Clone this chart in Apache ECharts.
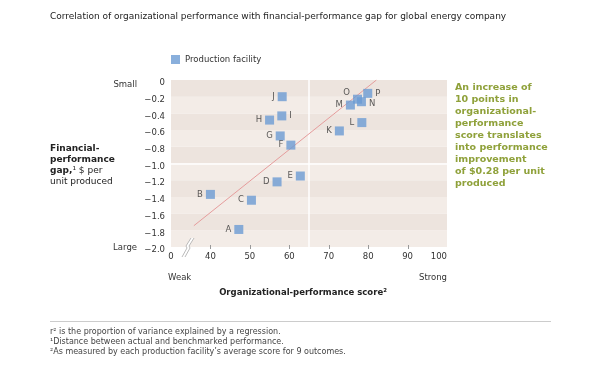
<!DOCTYPE html>
<html>
<head>
<meta charset="utf-8">
<script src="https://cdn.jsdelivr.net/npm/echarts@6/dist/echarts.min.js"></script>
<style>
html,body{margin:0;padding:0;background:#fff;}
#chart{width:602px;height:370px;}
</style>
</head>
<body>
<div id="chart"></div>
<script>
// ---- data ----
const facilities = ['A','B','C','D','E','F','G','H','I','J','K','L','M','N','O','P'];
const scores     = [47.2, 40.0, 50.4, 56.9, 62.8, 60.4, 57.7, 55.0, 58.1, 58.2, 72.7, 78.4, 75.5, 78.3, 77.3, 79.9];
const gaps       = [-1.79,-1.37,-1.44,-1.22,-1.15,-0.78,-0.67,-0.48,-0.43,-0.20,-0.61,-0.51,-0.30,-0.26,-0.23,-0.16];
const regressionX = [35.8, 82.1];
const regressionY = [-1.745, 0];
const xTickValues = [30, 40, 50, 60, 70, 80, 90, 100];
const xTickLabels = ['0', '40', '50', '60', '70', '80', '90', '100'];
const xMinorTicks = [40, 50, 60, 70, 80, 90];
const yTickValues = [0, -0.2, -0.4, -0.6, -0.8, -1.0, -1.2, -1.4, -1.6, -1.8, -2.0];
const dividerScore = 65;
const dividerGap = -1.0;
const r2 = 0.54;

const FONT = 'DejaVu Sans';
const rightLabeled = ['I', 'N', 'P'];

const chart = echarts.init(document.getElementById('chart'), null, {renderer: 'canvas'});

const scatterData = facilities.map((n, i) => {
  const d = {name: n, value: [scores[i], gaps[i]]};
  if (rightLabeled.includes(n)) {
    d.label = {position: 'right', offset: n === 'N' ? [0, 2] : [0, 0]};
  }
  if (n === 'O') d.label = {position: 'left', offset: [0, -6]};
  return d;
});

const baseGraphics = [
  {type: 'text', x: 50, y: 17, style: {text: 'Correlation of organizational performance with financial-performance gap for global energy company', fill: '#222', font: '9px "DejaVu Sans"', verticalAlign: 'middle'}},
  {type: 'text', x: 137, y: 85, style: {text: 'Small', fill: '#333', font: '8.5px "DejaVu Sans"', align: 'right', verticalAlign: 'middle'}},
  {type: 'text', x: 137, y: 248, style: {text: 'Large', fill: '#333', font: '8.5px "DejaVu Sans"', align: 'right', verticalAlign: 'middle'}},
  {type: 'text', x: 50, y: 143, style: {
    text: '{b|Financial-}\n{b|performance}\n{b|gap,}{n|\u00b9 $ per}\n{n|unit produced}',
    rich: {
      b: {fontWeight: 'bold', fontSize: 9, fontFamily: FONT, fill: '#222', lineHeight: 11},
      n: {fontSize: 9, fontFamily: FONT, fill: '#222', lineHeight: 11}
    }
  }},
  {type: 'text', x: 455, y: 82, style: {
    text: 'An increase of\n10 points in\norganizational-\nperformance\nscore translates\ninto performance\nimprovement\nof $0.28 per unit\nproduced',
    fill: '#8fa13a', font: 'bold 9.5px "DejaVu Sans"', lineHeight: 12
  }},
  {type: 'text', x: 440, y: 104, style: {text: 'r\u00b2 = ' + r2.toFixed(2), fill: '#d14a5c', font: '9px "DejaVu Sans"', align: 'right', verticalAlign: 'middle'}},
  {type: 'text', x: 168, y: 278, style: {text: 'Weak', fill: '#333', font: '8.5px "DejaVu Sans"', verticalAlign: 'middle'}},
  {type: 'text', x: 447, y: 278, style: {text: 'Strong', fill: '#333', font: '8.5px "DejaVu Sans"', align: 'right', verticalAlign: 'middle'}},
  {type: 'text', x: 303, y: 293, style: {text: 'Organizational-performance score\u00b2', fill: '#222', font: 'bold 8.5px "DejaVu Sans"', align: 'center', verticalAlign: 'middle'}},
  {type: 'line', shape: {x1: 50, y1: 321.5, x2: 551, y2: 321.5}, style: {stroke: '#cccccc', lineWidth: 1}},
  {type: 'text', x: 50, y: 332, style: {text: 'r\u00b2 is the proportion of variance explained by a regression.', fill: '#444', font: '8px "DejaVu Sans"', verticalAlign: 'middle'}},
  {type: 'text', x: 50, y: 342, style: {text: '\u00b9Distance between actual and benchmarked performance.', fill: '#444', font: '8px "DejaVu Sans"', verticalAlign: 'middle'}},
  {type: 'text', x: 50, y: 352, style: {text: '\u00b2As measured by each production facility\u2019s average score for 9 outcomes.', fill: '#444', font: '8px "DejaVu Sans"', verticalAlign: 'middle'}},
  // axis break symbol
  {type: 'polygon', z: 10, shape: {points: [[182,257],[187,248],[186,246],[191,238],[194,238],[189,246],[190,248],[185,257]]}, style: {fill: '#ffffff'}},
  {type: 'polyline', z: 11, shape: {points: [[182,257],[187,248],[186,246],[191,238]]}, style: {stroke: '#aaaaaa', lineWidth: 0.8, fill: null}},
  {type: 'polyline', z: 11, shape: {points: [[185,257],[190,248],[189,246],[194,238]]}, style: {stroke: '#aaaaaa', lineWidth: 0.8, fill: null}}
];

const option = {
  animation: false,
  textStyle: {fontFamily: FONT},
  grid: {left: 171, right: 155, top: 80, bottom: 123},
  legend: {
    data: ['Production facility'],
    left: 166, top: 50,
    icon: 'rect', itemWidth: 9, itemHeight: 9, itemGap: 6,
    textStyle: {fontSize: 8.5, color: '#333', fontFamily: FONT}
  },
  xAxis: {
    type: 'value', min: 30, max: 100, interval: 10,
    position: 'bottom',
    axisLine: {show: false, onZero: false},
    splitLine: {show: false},
    axisTick: {show: false},
    axisLabel: {
      customValues: xTickValues,
      margin: 5, fontSize: 8.5, color: '#333', fontFamily: FONT,
      alignMaxLabel: 'right',
      formatter: v => xTickLabels[xTickValues.indexOf(v)]
    }
  },
  yAxis: {
    type: 'value', min: -2.0, max: 0, interval: 0.2,
    axisLine: {show: false, onZero: false},
    axisTick: {show: false},
    splitLine: {show: false},
    splitArea: {show: true, areaStyle: {color: ['#f3ece7', '#ede4de']}},
    axisLabel: {
      customValues: yTickValues,
      margin: 6, fontSize: 8.5, color: '#333', fontFamily: FONT,
      verticalAlign: 'top', lineHeight: 6,
      formatter: v => (v === 0 ? '0' : v.toFixed(1).replace('-', '\u2212'))
    }
  },
  series: [
    {
      name: 'Regression',
      type: 'line',
      data: regressionX.map((x, i) => [x, regressionY[i]]),
      symbol: 'none',
      silent: true,
      lineStyle: {color: '#e59c9c', width: 1},
      z: 2,
      markLine: {
        silent: true,
        symbol: 'none',
        label: {show: false},
        lineStyle: {color: '#ffffff', width: 1.5, type: 'solid'},
        data: [{xAxis: dividerScore}, {yAxis: dividerGap}],
        z: 1
      }
    },
    {
      name: 'Production facility',
      type: 'scatter',
      symbol: 'rect',
      symbolSize: 9,
      itemStyle: {color: '#6c9bd3'},
      data: scatterData,
      label: {
        show: true, formatter: '{b}', position: 'left', distance: 3,
        color: '#333', fontSize: 8.5, fontFamily: FONT
      },
      z: 3
    }
  ],
  graphic: baseGraphics
};
chart.setOption(option);

// small tick marks at the bottom of the plot, placed through the library's x scale
const yBottom = chart.convertToPixel({yAxisIndex: 0}, -2.0);
const tickGraphics = xMinorTicks.map(v => {
  const px = Math.round(chart.convertToPixel({xAxisIndex: 0}, v)) + 0.5;
  return {type: 'line', z: 12, shape: {x1: px, y1: yBottom - 2, x2: px, y2: yBottom + 2}, style: {stroke: '#999999', lineWidth: 1}};
});
chart.setOption({graphic: baseGraphics.concat(tickGraphics)});
</script>
</body>
</html>
